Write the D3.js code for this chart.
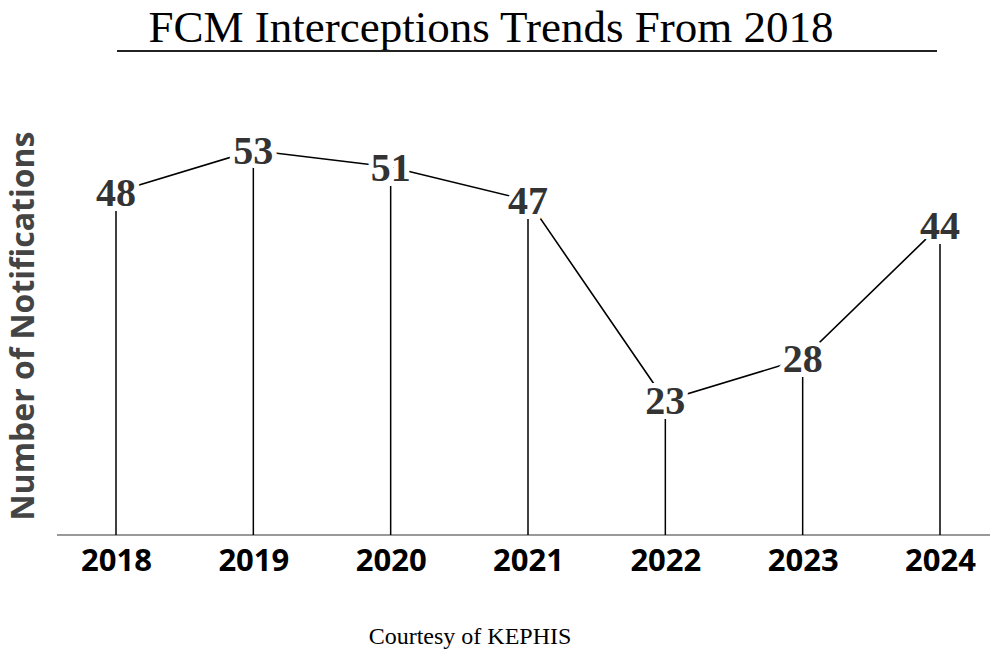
<!DOCTYPE html>
<html>
<head>
<meta charset="utf-8">
<script src="https://cdn.jsdelivr.net/npm/d3@7"></script>
<style>
  body { margin: 0; background: #fff; }
  svg { display: block; }
</style>
</head>
<body>
<svg id="chart"></svg>
<script>
// data
const years = ['2018', '2019', '2020', '2021', '2022', '2023', '2024']
const notifications = [48, 53, 51, 47, 23, 28, 44]

const W = 996, H = 656
const svg = d3.select('#chart').attr('width', W).attr('height', H)

const x = d3.scalePoint().domain(years).range([116, 940])
const y = d3.scaleLinear().domain([7, 60]).range([534, 92])
const baseY = 535

const data = years.map((yr, i) => ({ year: yr, value: notifications[i] }))

// title + rule under it
svg.append('text')
  .attr('x', 491).attr('y', 42)
  .attr('text-anchor', 'middle')
  .style('font-family', '"Liberation Serif", "Times New Roman", serif')
  .style('font-size', '45px')
  .attr('fill', '#000')
  .text('FCM Interceptions Trends From 2018')

svg.append('line')
  .attr('x1', 117).attr('x2', 937)
  .attr('y1', 51).attr('y2', 51)
  .attr('stroke', '#222').attr('stroke-width', 2)

// y label
svg.append('text')
  .attr('transform', `translate(34,${(130 + 522) / 2}) rotate(-90)`)
  .attr('text-anchor', 'middle')
  .style('font-family', '"Open Sans", sans-serif')
  .style('font-weight', 700)
  .style('font-size', '32px')
  .attr('fill', '#444')
  .text('Number of Notifications')

// baseline axis
const xAxis = svg.append('g')
  .attr('transform', `translate(0,${baseY})`)
  .call(d3.axisBottom(x).tickSize(0).tickPadding(14))
xAxis.select('.domain').remove()
xAxis.append('line')
  .attr('x1', 57).attr('x2', 990)
  .attr('stroke', '#777').attr('stroke-width', 1.5)
xAxis.selectAll('.tick text')
  .attr('dy', '0.71em')
  .style('font-family', '"Open Sans", sans-serif')
  .style('font-weight', 700)
  .style('font-size', '31px')
  .attr('fill', '#000')

// drop lines
svg.append('g').selectAll('line')
  .data(data)
  .join('line')
  .attr('x1', d => x(d.year)).attr('x2', d => x(d.year))
  .attr('y1', baseY).attr('y2', d => y(d.value))
  .attr('stroke', '#000').attr('stroke-width', 1.5)

// trend line
const line = d3.line()
  .x(d => x(d.year))
  .y(d => y(d.value))

svg.append('path')
  .datum(data)
  .attr('fill', 'none')
  .attr('stroke', '#000')
  .attr('stroke-width', 1.6)
  .attr('d', line)

// value labels, white halo gives the gap around them
svg.append('g').selectAll('text')
  .data(data)
  .join('text')
  .attr('x', d => x(d.year))
  .attr('y', d => y(d.value))
  .attr('dy', '0.34em')
  .attr('text-anchor', 'middle')
  .style('font-family', '"Liberation Serif", "Times New Roman", serif')
  .style('font-weight', 700)
  .style('font-size', '40px')
  .style('paint-order', 'stroke')
  .attr('stroke', '#fff')
  .attr('stroke-width', 10)
  .attr('fill', '#333')
  .text(d => d.value)

// source note
svg.append('text')
  .attr('x', 470).attr('y', 644)
  .attr('text-anchor', 'middle')
  .style('font-family', '"Liberation Serif", "Times New Roman", serif')
  .style('font-size', '24px')
  .attr('fill', '#000')
  .text('Courtesy of KEPHIS')
</script>
</body>
</html>
